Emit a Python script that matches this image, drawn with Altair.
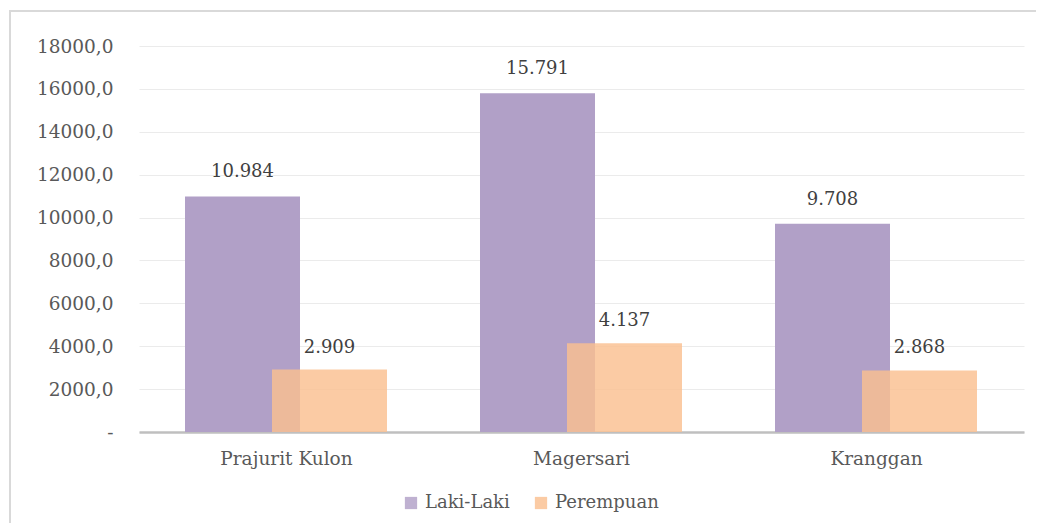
import altair as alt
import pandas as pd

categories = ["Prajurit Kulon", "Magersari", "Kranggan"]
laki = [10984, 15791, 9708]
perempuan = [2909, 4137, 2868]
series = ["Laki-Laki", "Perempuan"]
colors = ["#b1a0c7", "#fac090"]

df_l = pd.DataFrame({"desa": categories, "nilai": laki, "jenis": series[0]})
df_p = pd.DataFrame({"desa": categories, "nilai": perempuan, "jenis": series[1]})

FONT = "DejaVu Serif"
W, H = 885, 386

x_enc = alt.X("desa:N", sort=categories, title=None,
              scale=alt.Scale(paddingInner=0, paddingOuter=0),
              axis=alt.Axis(labelAngle=0, labelFontSize=18.5, labelColor="#595959",
                            labelFont=FONT, ticks=False, domainColor="#bfbfbf",
                            domainWidth=2.5, labelPadding=17, grid=False))
y_enc = alt.Y("nilai:Q", title=None,
              scale=alt.Scale(domain=[0, 18000], nice=False),
              axis=alt.Axis(values=list(range(0, 18001, 2000)), labelFontSize=18.5,
                            labelColor="#595959", labelFont=FONT, ticks=False,
                            domain=False, labelPadding=26, gridColor="#ebebeb",
                            gridWidth=1.2,
                            labelExpr="datum.value == 0 ? '-' : replace(format(datum.value, '.1f'), '.', ',')"))
color_enc = alt.Color("jenis:N", scale=alt.Scale(domain=series, range=colors),
                      legend=alt.Legend(title=None, orient="none", direction="horizontal",
                                        legendX=263, legendY=448, symbolType="square",
                                        symbolSize=150, symbolStrokeWidth=0,
                                        labelFontSize=18, labelFont=FONT,
                                        labelColor="#595959", labelOffset=5,
                                        columnPadding=22, padding=0))

frame = alt.Chart(pd.DataFrame({"a": [0]})).mark_rect(
    fill=None, stroke="#d9d9d9", strokeWidth=2
).encode(x=alt.value(-129), x2=alt.value(W + 40), y=alt.value(-35), y2=alt.value(H + 120))

bars_l = alt.Chart(df_l).mark_bar(width=115, xOffset=-44).encode(
    x=x_enc, y=y_enc, color=color_enc)
bars_p = alt.Chart(df_p).mark_bar(width=115, xOffset=43, opacity=0.82).encode(
    x=x_enc, y=y_enc, color=color_enc)

lbl_expr = "replace(format(datum.nilai, ',d'), ',', '.')"
text_l = alt.Chart(df_l).transform_calculate(lbl=lbl_expr).mark_text(
    xOffset=-44, dy=-15, baseline="bottom", fontSize=18, font=FONT, color="#404040"
).encode(x=alt.X("desa:N", sort=categories), y="nilai:Q", text="lbl:N")
text_p = alt.Chart(df_p).transform_calculate(lbl=lbl_expr).mark_text(
    xOffset=43, dy=-13, baseline="bottom", fontSize=18, font=FONT, color="#404040"
).encode(x=alt.X("desa:N", sort=categories), y="nilai:Q", text="lbl:N")

chart = alt.layer(frame, bars_l, bars_p, text_l, text_p).properties(
    width=W, height=H,
    autosize=alt.AutoSizeParams(type="none"),
    padding={"left": 131, "top": 38, "right": 12, "bottom": 91},
).configure(background="white").configure_view(stroke="transparent", strokeWidth=0)

chart.save("out.html", embed_options={"renderer": "svg", "actions": False})
